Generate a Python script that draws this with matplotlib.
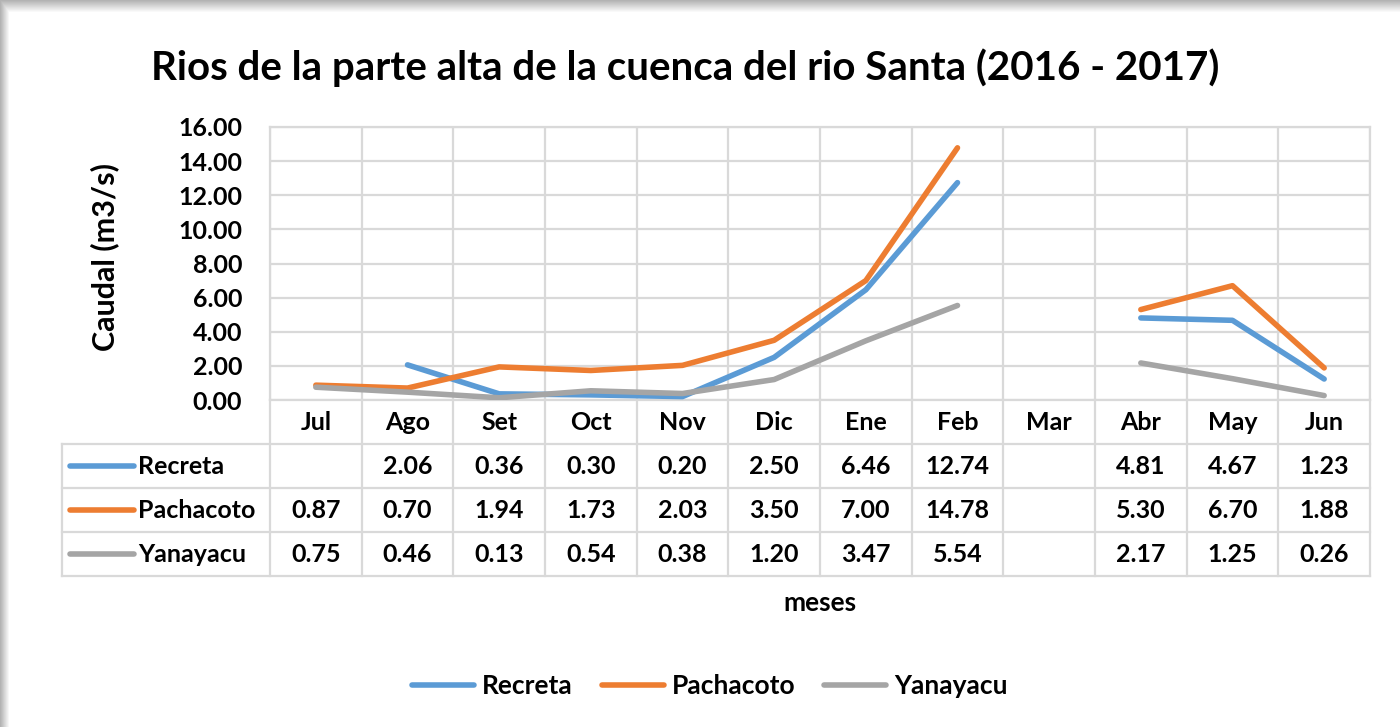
import numpy as np
import matplotlib
matplotlib.use('Agg')
import matplotlib.pyplot as plt
from matplotlib.lines import Line2D

# data
months = ['Jul', 'Ago', 'Set', 'Oct', 'Nov', 'Dic', 'Ene', 'Feb', 'Mar', 'Abr', 'May', 'Jun']
recreta = [np.nan, 2.06, 0.36, 0.30, 0.20, 2.50, 6.46, 12.74, np.nan, 4.81, 4.67, 1.23]
pachacoto = [0.87, 0.70, 1.94, 1.73, 2.03, 3.50, 7.00, 14.78, np.nan, 5.30, 6.70, 1.88]
yanayacu = [0.75, 0.46, 0.13, 0.54, 0.38, 1.20, 3.47, 5.54, np.nan, 2.17, 1.25, 0.26]

series_names = ['Recreta', 'Pachacoto', 'Yanayacu']
series_vals = [recreta, pachacoto, yanayacu]
colors = ['#5B9BD5', '#ED7D31', '#A5A5A5']
grid_col = '#D9D9D9'

plt.rcParams['font.family'] = ['Lato', 'DejaVu Sans']
plt.rcParams['font.weight'] = 'bold'

W, H = 1400, 727
fig = plt.figure(figsize=(14, 7.27), dpi=100)


def box(x0, y0, x1, y1):
    # pixel box -> figure fraction rect
    return [x0 / W, 1 - y1 / H, (x1 - x0) / W, (y1 - y0) / H]


# shadow frame at top and left
bg = fig.add_axes([0, 0, 1, 1], zorder=-10)
yy = np.arange(H)[:, None]
xx = np.arange(W)[None, :]
shade = np.minimum(np.clip(0.70 + yy / 12 * 0.30, 0, 1), np.clip(0.70 + xx / 9 * 0.30, 0, 1))
bg.imshow(shade, cmap='gray', vmin=0, vmax=1, aspect='auto', extent=(0, W, H, 0))
bg.axis('off')

# main plot
ax = fig.add_axes(box(270, 127, 1370, 400))
x = np.arange(len(months))
for name, vals, c in zip(series_names, series_vals, colors):
    ax.plot(x, vals, color=c, lw=4.0, solid_capstyle='round', solid_joinstyle='round', zorder=3)
ax.set_xlim(-0.5, 11.5)
ax.set_ylim(0, 16)
ax.set_yticks(np.arange(0, 17, 2))
ax.set_yticklabels([f'{v:.2f}' for v in np.arange(0, 17, 2)], fontsize=18)
ax.set_xticks([])
ax.tick_params(axis='y', length=0, pad=20)
for v in np.arange(0, 17, 2):
    ax.axhline(v, color=grid_col, lw=1.6, zorder=1)
for i in range(13):
    ax.axvline(i - 0.5, color=grid_col, lw=1.6, zorder=1)
for s in ax.spines.values():
    s.set_color(grid_col)
    s.set_linewidth(1.6)

# data table under the plot
tab = fig.add_axes(box(270, 400, 1370, 576))
tab.set_xlim(-0.5, 11.5)
tab.set_ylim(4, 0)
tab.axis('off')
x_left = -0.5 - (270 - 62) / (1100 / 12)
for r in range(1, 5):
    tab.plot([x_left, 11.5], [r, r], color=grid_col, lw=1.6, clip_on=False)
for i in range(13):
    tab.plot([i - 0.5, i - 0.5], [0, 4], color=grid_col, lw=1.6, clip_on=False)
tab.plot([x_left, x_left], [1, 4], color=grid_col, lw=1.6, clip_on=False)

for i, m in enumerate(months):
    tab.text(i, 0.5, m, ha='center', va='center', fontsize=18)
for r, (name, vals, c) in enumerate(zip(series_names, series_vals, colors)):
    yrow = r + 1.5
    tab.plot([x_left + 0.09, x_left + 0.78], [yrow, yrow], color=c, lw=4.0,
             solid_capstyle='round', clip_on=False)
    tab.text(x_left + 0.83, yrow, name, ha='left', va='center', fontsize=18)
    for i, v in enumerate(vals):
        if not np.isnan(v):
            tab.text(i, yrow, f'{v:.2f}', ha='center', va='center', fontsize=18)

# titles and labels
fig.text(685 / W, 1 - 68 / H, 'Rios de la parte alta de la cuenca del rio Santa (2016 - 2017)',
         ha='center', va='center', fontsize=29)
fig.text(105 / W, 1 - 257 / H, 'Caudal (m3/s)', rotation=90, ha='center', va='center', fontsize=22)
fig.text(820 / W, 1 - 603 / H, 'meses', ha='center', va='center', fontsize=19)

handles = [Line2D([], [], color=c, lw=4.0, solid_capstyle='round') for c in colors]
fig.legend(handles, series_names, loc='center', bbox_to_anchor=(710 / W, 1 - 686 / H),
           ncol=3, frameon=False, fontsize=19, handlelength=2.35, handletextpad=0.3,
           columnspacing=1.1)

fig.savefig('out.png', dpi=100, facecolor='white')
